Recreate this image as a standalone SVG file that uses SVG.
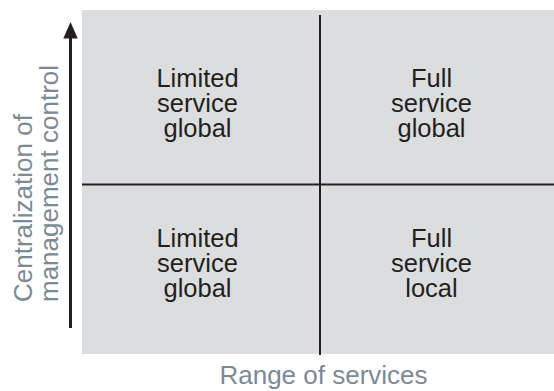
<svg xmlns="http://www.w3.org/2000/svg" width="554" height="391" viewBox="0 0 554 391">
  <style>
    .cell { font-family: "Liberation Sans", Arial, sans-serif; font-size: 25.5px; fill: #231f20; text-anchor: middle; }
    .axis { font-family: "Liberation Sans", Arial, sans-serif; font-size: 26px; fill: #7b8a94; }
    .rule { stroke: #231f20; stroke-width: 2; fill: none; }
  </style>

  <!-- matrix background -->
  <rect id="field" x="82" y="10" width="472" height="344" fill="#dcdddf"/>

  <!-- dividing rules and the vertical axis arrow -->
  <g id="connectors">
    <line class="rule" x1="320" y1="15" x2="320" y2="355"/>
    <line class="rule" x1="82" y1="184.5" x2="554" y2="184.5"/>
    <line x1="70.5" y1="328" x2="70.5" y2="37" stroke="#231f20" stroke-width="3"/>
    <polygon points="70.5,22 77.7,38.5 63.3,38.5" fill="#231f20"/>
  </g>

  <g id="q-top-left">
    <text class="cell" x="197.5" y="87.3">Limited</text>
    <text class="cell" x="197.5" y="112.3">service</text>
    <text class="cell" x="197.5" y="137.3">global</text>
  </g>
  <g id="q-top-right">
    <text class="cell" x="431.5" y="87.3">Full</text>
    <text class="cell" x="431.5" y="112.3">service</text>
    <text class="cell" x="431.5" y="137.3">global</text>
  </g>
  <g id="q-bottom-left">
    <text class="cell" x="197.5" y="247.3">Limited</text>
    <text class="cell" x="197.5" y="272.3">service</text>
    <text class="cell" x="197.5" y="297.3">global</text>
  </g>
  <g id="q-bottom-right">
    <text class="cell" x="431.5" y="247.3">Full</text>
    <text class="cell" x="431.5" y="272.3">service</text>
    <text class="cell" x="431.5" y="297.3">local</text>
  </g>

  <!-- axis titles -->
  <g id="y-axis-title">
    <text class="axis" transform="translate(31.5,302) rotate(-90)">Centralization of</text>
    <text class="axis" transform="translate(57.5,302) rotate(-90)">management control</text>
  </g>
  <g id="x-axis-title">
    <text class="axis" x="323.5" y="384" text-anchor="middle">Range of services</text>
  </g>
</svg>
